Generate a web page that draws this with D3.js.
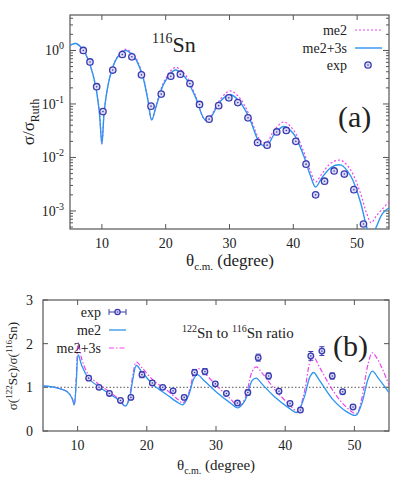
<!DOCTYPE html><html><head><meta charset="utf-8">
<script src="https://d3js.org/d3.v7.min.js"></script>
<style>body{margin:0;background:#fff}svg text{font-family:"Liberation Serif","DejaVu Serif","Times New Roman",serif;fill:#222}</style></head><body>
<svg id="c" width="415" height="489" font-family="Liberation Serif, DejaVu Serif, serif"></svg>
<script>
const expA=[[7.08,1.0],[8.13,0.61],[9.18,0.21],[10.17,0.072],[11.7,0.43],[13.2,0.84],[14.7,0.76],[16.2,0.35],[17.7,0.091],[19.3,0.153],[20.8,0.33],[22.3,0.36],[23.8,0.24],[25.3,0.098],[26.8,0.052],[28.3,0.093],[29.9,0.13],[31.3,0.106],[32.9,0.055],[34.4,0.019],[35.9,0.017],[37.4,0.030],[38.9,0.032],[40.4,0.020],[42.0,0.0075],[43.5,0.0020],[44.9,0.0036],[46.4,0.0056],[48.0,0.0049],[49.5,0.0025],[51.0,0.00057]];
const me23sA=[[5,1.25],[5.9,1.35],[7,1.05],[8,0.6],[9,0.22],[9.6,0.07],[10.0,0.018],[10.4,0.08],[11.2,0.3],[12.3,0.7],[13.6,1.0],[15,0.78],[16.3,0.36],[17.2,0.12],[17.8,0.05],[18.5,0.09],[19.8,0.25],[21.5,0.43],[23,0.32],[24.6,0.14],[26.2,0.05],[27,0.055],[28.5,0.11],[30.1,0.15],[31.6,0.11],[33.1,0.055],[34.4,0.022],[35.0,0.0175],[35.8,0.016],[37,0.027],[38.5,0.038],[40,0.028],[41.6,0.011],[42.7,0.0045],[43.5,0.0028],[44.5,0.0042],[46,0.0066],[47.5,0.0072],[49,0.0045],[50.5,0.0015],[51.5,0.0005],[52.2,0.0003],[53,0.0005],[54,0.0009],[55,0.00115]];
const me2A=[[5,1.25],[5.9,1.35],[7,1.05],[8,0.6],[9,0.22],[9.6,0.07],[10.0,0.018],[10.4,0.08],[11.2,0.3],[12.3,0.72],[13.6,1.05],[15,0.82],[16.3,0.38],[17.2,0.125],[17.8,0.05],[18.5,0.095],[19.8,0.27],[21.5,0.48],[23,0.36],[24.6,0.15],[26.2,0.05],[27,0.058],[28.5,0.12],[30.1,0.175],[31.6,0.13],[33.1,0.062],[34.4,0.025],[35.0,0.02],[35.8,0.019],[37,0.032],[38.5,0.046],[40,0.033],[41.6,0.013],[42.7,0.0055],[43.5,0.0035],[44.5,0.005],[46,0.008],[47.5,0.0088],[49,0.0058],[50.5,0.0022],[51.5,0.0009],[52.2,0.0006],[53,0.0008],[54,0.0011],[55,0.0015]];
const expB=[[11.6,1.21,0.05],[13.1,1.0,0.04],[14.6,0.86,0.04],[16.2,0.70,0.04],[17.7,0.77,0.04],[19.3,1.29,0.07],[20.8,1.10,0.05],[22.3,1.0,0.04],[23.8,0.92,0.04],[25.4,0.77,0.05],[26.9,1.34,0.07],[28.4,1.36,0.07],[29.9,1.08,0.05],[31.5,0.86,0.04],[33.1,0.64,0.04],[34.6,0.88,0.06],[36.1,1.68,0.08],[37.6,1.26,0.07],[39.1,0.91,0.05],[40.7,0.63,0.04],[42.2,0.48,0.04],[43.7,1.72,0.1],[45.3,1.83,0.1],[46.8,1.26,0.07],[48.3,0.90,0.05],[49.8,0.55,0.04]];
const me2B=[[5,1.03],[7,0.99],[8.5,0.9],[9.2,0.75],[9.5,0.6],[9.8,1.1],[10.1,1.74],[10.6,1.5],[11.6,1.2],[13.2,1.0],[14.6,0.85],[16,0.7],[16.9,0.57],[17.5,0.75],[18.0,1.2],[18.5,1.5],[19.3,1.35],[21,1.05],[23,0.82],[24.5,0.65],[25.2,0.6],[26,0.8],[26.8,1.2],[27.3,1.29],[28.3,1.15],[30,0.9],[32,0.65],[33.2,0.53],[34.2,0.7],[35.2,1.15],[35.8,1.21],[36.8,1.05],[38.5,0.78],[40.5,0.53],[41.7,0.42],[42.7,0.75],[43.6,1.25],[44.1,1.34],[45,1.15],[47,0.7],[48.8,0.45],[50.2,0.36],[51,0.6],[52,1.2],[52.6,1.37],[53.5,1.2],[55,0.88]];
const me23sB=[[5,1.03],[7,0.99],[8.5,0.9],[9.2,0.75],[9.5,0.6],[9.8,1.2],[10.1,2.02],[10.6,1.65],[11.6,1.28],[13.2,1.05],[14.6,0.9],[16,0.72],[16.9,0.57],[17.5,0.8],[18.0,1.3],[18.5,1.58],[19.3,1.45],[21,1.15],[23,0.92],[24.5,0.72],[25.2,0.64],[26,0.85],[26.8,1.3],[27.4,1.43],[28.3,1.33],[30,1.05],[32,0.75],[33.3,0.56],[34.2,0.75],[35.2,1.35],[35.8,1.47],[36.8,1.3],[38.5,0.95],[40.5,0.62],[41.8,0.45],[42.7,0.85],[43.6,1.6],[44.0,1.72],[45,1.45],[47,0.9],[48.8,0.55],[50.3,0.4],[51,0.7],[52,1.55],[52.6,1.79],[53.5,1.6],[55,1.05]];
const xTicks=[10,20,30,40,50];
const yTicksA=[1,0.1,0.01,0.001];
const yTicksB=[0,1,2,3];

const svg=d3.select("#c");
const BLUE="#2b95f0",MAG="#ee44ee",PT="#3a3ab0",PF="#dcdcf6";
function frame(g,x,y,L,R,T,B){
  g.append("rect").attr("x",L).attr("y",T).attr("width",R-L).attr("height",B-T).attr("fill","none").attr("stroke","#555").attr("stroke-width",1.2);
  xTicks.forEach(t=>{g.append("line").attr("x1",x(t)).attr("x2",x(t)).attr("y1",B).attr("y2",B-5).attr("stroke","#555");
    g.append("line").attr("x1",x(t)).attr("x2",x(t)).attr("y1",T).attr("y2",T+5).attr("stroke","#555");
    g.append("text").attr("x",x(t)).attr("y",B+19).attr("text-anchor","middle").attr("font-size",14).text(t);});
}
function pt(p,cx,cy,r){p.append("circle").attr("cx",cx).attr("cy",cy).attr("r",r).attr("fill",PF).attr("stroke",PT).attr("stroke-width",1.3);
 p.append("circle").attr("cx",cx).attr("cy",cy).attr("r",0.8).attr("fill",PT);}
// Panel a
{
const L=70,R=389,T=15,B=229;
const x=d3.scaleLinear().domain([5,55]).range([L,R]);
const y=d3.scaleLog().domain([4.6e-4,4.6]).range([B,T]);
const g=svg.append("g");
g.append("clipPath").attr("id","ca").append("rect").attr("x",L).attr("y",T).attr("width",R-L).attr("height",B-T);
frame(g,x,y,L,R,T,B);
for(let e=-4;e<=0;e++)for(let m=1;m<10;m++){const v=m*Math.pow(10,e);if(v<4.6e-4||v>4.6)continue;const len=m==1?6:3;
 g.append("line").attr("x1",L).attr("x2",L+len).attr("y1",y(v)).attr("y2",y(v)).attr("stroke","#555");
 g.append("line").attr("x1",R).attr("x2",R-len).attr("y1",y(v)).attr("y2",y(v)).attr("stroke","#555");}
yTicksA.forEach(v=>{const e=Math.round(Math.log10(v));const t=g.append("text").attr("x",L-6).attr("y",y(v)+5).attr("text-anchor","end").attr("font-size",14);
 t.append("tspan").text("10");t.append("tspan").attr("dy",-6).attr("font-size",10).text(e);});
const line=d3.line().x(d=>x(d[0])).y(d=>y(d[1])).curve(d3.curveCatmullRom.alpha(0.5));
const pg=g.append("g").attr("clip-path","url(#ca)");
pg.append("path").attr("d",line(me2A)).attr("fill","none").attr("stroke",MAG).attr("stroke-width",1.2).attr("stroke-dasharray","2,2");
pg.append("path").attr("d",line(me23sA)).attr("fill","none").attr("stroke",BLUE).attr("stroke-width",1.4);
expA.forEach(d=>pt(pg,x(d[0]),y(d[1]),3.2));
const t1=g.append("text").attr("x",152).attr("y",52).attr("font-size",22);t1.append("tspan").attr("font-size",14).attr("dy",-9).text("116");t1.append("tspan").attr("dy",9).text("Sn");
[["me2",30],["me2+3s",48],["exp",65]].forEach(([s,yy],i)=>{g.append("text").attr("x",347).attr("y",yy+5).attr("text-anchor","end").attr("font-size",14).text(s);
 if(i==0)g.append("line").attr("x1",355).attr("x2",382).attr("y1",yy).attr("y2",yy).attr("stroke",MAG).attr("stroke-dasharray","2,2").attr("stroke-width",1.2);
 if(i==1)g.append("line").attr("x1",355).attr("x2",382).attr("y1",yy).attr("y2",yy).attr("stroke",BLUE).attr("stroke-width",1.4);
 if(i==2)pt(g,368,yy,3.2);});
g.append("text").attr("x",338).attr("y",127).attr("font-size",30).text("(a)");
const yl=g.append("text").attr("transform","translate(34,122) rotate(-90)").attr("text-anchor","middle").attr("font-size",17);
yl.append("tspan").text("σ/σ");yl.append("tspan").attr("dy",5).attr("font-size",12).text("Ruth");
const xl=g.append("text").attr("x",230).attr("y",266).attr("text-anchor","middle").attr("font-size",17);
xl.append("tspan").text("θ");xl.append("tspan").attr("dy",4).attr("font-size",11).text("c.m.");xl.append("tspan").attr("dy",-4).text(" (degree)");
}
// Panel b
{
const L=43,R=389,T=300,B=431;
const x=d3.scaleLinear().domain([5,55]).range([L,R]);
const y=d3.scaleLinear().domain([0,3]).range([B,T]);
const g=svg.append("g");
g.append("clipPath").attr("id","cb").append("rect").attr("x",L).attr("y",T).attr("width",R-L).attr("height",B-T);
frame(g,x,y,L,R,T,B);
yTicksB.forEach(v=>{g.append("line").attr("x1",L).attr("x2",L+5).attr("y1",y(v)).attr("y2",y(v)).attr("stroke","#555");
 g.append("line").attr("x1",R).attr("x2",R-5).attr("y1",y(v)).attr("y2",y(v)).attr("stroke","#555");
 g.append("text").attr("x",L-10).attr("y",y(v)+5).attr("text-anchor","end").attr("font-size",14).text(v);});
g.append("line").attr("x1",L).attr("x2",R).attr("y1",y(1)).attr("y2",y(1)).attr("stroke","#777").attr("stroke-dasharray","1.5,2").attr("stroke-width",1.2);
const line=d3.line().x(d=>x(d[0])).y(d=>y(d[1])).curve(d3.curveCatmullRom.alpha(0.5));
const pg=g.append("g").attr("clip-path","url(#cb)");
pg.append("path").attr("d",line(me23sB)).attr("fill","none").attr("stroke",MAG).attr("stroke-width",1.2).attr("stroke-dasharray","5,2,1.5,2");
pg.append("path").attr("d",line(me2B)).attr("fill","none").attr("stroke",BLUE).attr("stroke-width",1.3);
expB.forEach(d=>{pg.append("line").attr("x1",x(d[0])).attr("x2",x(d[0])).attr("y1",y(d[1]-d[2])).attr("y2",y(d[1]+d[2])).attr("stroke",PT);
 [d[1]-d[2],d[1]+d[2]].forEach(v=>pg.append("line").attr("x1",x(d[0])-2.5).attr("x2",x(d[0])+2.5).attr("y1",y(v)).attr("y2",y(v)).attr("stroke",PT));
 pt(pg,x(d[0]),y(d[1]),2.8);});
[["exp",312],["me2",330],["me2+3s",348]].forEach(([s,yy],i)=>{g.append("text").attr("x",101).attr("y",yy+5).attr("text-anchor","end").attr("font-size",14).text(s);
 if(i==0){g.append("line").attr("x1",109).attr("x2",126).attr("y1",yy).attr("y2",yy).attr("stroke",PT);
   [109,126].forEach(xx=>g.append("line").attr("x1",xx).attr("x2",xx).attr("y1",yy-3).attr("y2",yy+3).attr("stroke",PT));
   pt(g,117.5,yy,2.6);}
 if(i==1)g.append("line").attr("x1",109).attr("x2",126).attr("y1",yy).attr("y2",yy).attr("stroke",BLUE).attr("stroke-width",1.3);
 if(i==2)g.append("line").attr("x1",109).attr("x2",126).attr("y1",yy).attr("y2",yy).attr("stroke",MAG).attr("stroke-dasharray","5,2,1.5,2").attr("stroke-width",1.2);});
const r=g.append("text").attr("x",182).attr("y",338).attr("font-size",15);
r.append("tspan").attr("font-size",10).attr("dy",-6).text("122");r.append("tspan").attr("dy",6).text("Sn to ");
r.append("tspan").attr("font-size",10).attr("dy",-6).text("116");r.append("tspan").attr("dy",6).text("Sn ratio");
g.append("text").attr("x",333).attr("y",356).attr("font-size",30).text("(b)");
const yl=g.append("text").attr("transform","translate(17,366) rotate(-90)").attr("text-anchor","middle").attr("font-size",13);
yl.append("tspan").text("σ(");yl.append("tspan").attr("font-size",9).attr("dy",-5).text("122");yl.append("tspan").attr("dy",5).text("Sc)/σ(");
yl.append("tspan").attr("font-size",9).attr("dy",-5).text("116");yl.append("tspan").attr("dy",5).text("Sn)");
const xl=g.append("text").attr("x",216).attr("y",470).attr("text-anchor","middle").attr("font-size",15);
xl.append("tspan").text("θ");xl.append("tspan").attr("dy",4).attr("font-size",10).text("c.m.");xl.append("tspan").attr("dy",-4).text(" (degree)");
}
</script></body></html>
